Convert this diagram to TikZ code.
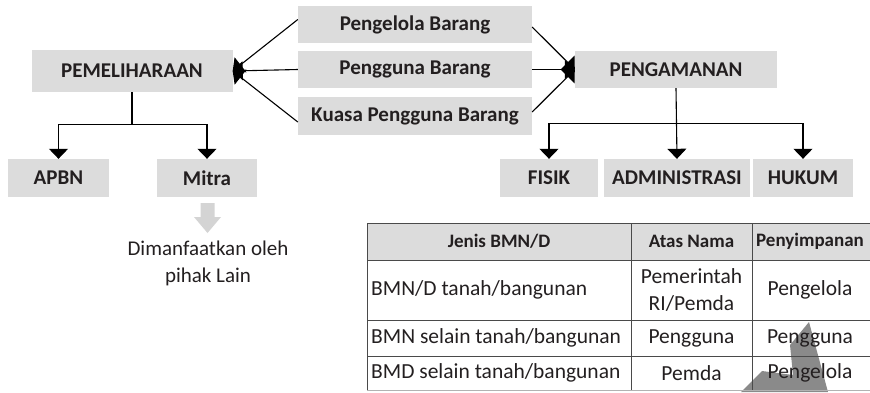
\documentclass[tikz,border=0pt]{standalone}
\usepackage{fontspec}
\setmainfont{Carlito}
\usetikzlibrary{arrows.meta}
\definecolor{boxgray}{HTML}{DCDCDC}
\definecolor{txt}{HTML}{231F20}
\definecolor{wmgray}{HTML}{8A8A8A}
\definecolor{arrgray}{HTML}{D4D4D4}
\definecolor{gridc}{HTML}{4A4A4A}
\begin{document}
\begin{tikzpicture}[x=1pt,y=-1pt,
  box/.style={fill=boxgray,inner sep=0pt,font=\fontsize{21}{25}\selectfont\bfseries,text=txt},
  arr/.style={line width=1.1pt,-{Triangle[width=19pt,length=10pt]}},
  cell/.style={font=\fontsize{21.5}{27}\selectfont,text=txt,inner sep=0pt,align=center},
  hcell/.style={font=\fontsize{19}{23}\selectfont\bfseries,text=txt,inner sep=0pt}]
\useasboundingbox (0,0) rectangle (870,392);
% top boxes
\node[box,minimum width=234pt,minimum height=37pt] (pengelola) at (415,24.5) {Pengelola Barang};
\node[box,minimum width=234pt,minimum height=37pt] (pengguna) at (415,69.5) {Pengguna Barang};
\node[box,minimum width=234pt,minimum height=38pt] (kuasa) at (415,116) {Kuasa Pengguna Barang};
\node[box,minimum width=201pt,minimum height=42pt] (pem) at (132,71) {PEMELIHARAAN};
\node[box,minimum width=202pt,minimum height=37pt] (pengam) at (676,69.5) {PENGAMANAN};
\node[box,minimum width=101pt,minimum height=38pt] (apbn) at (58.5,178) {APBN};
\node[box,minimum width=100pt,minimum height=38pt] (mitra) at (207,178) {Mitra};
\node[box,minimum width=98pt,minimum height=38pt] (fisik) at (549,178) {FISIK};
\node[box,minimum width=146pt,minimum height=38pt] (admin) at (677,178) {ADMINISTRASI};
\node[box,minimum width=100pt,minimum height=38pt] (hukum) at (803,178) {HUKUM};
% converging arrows
\draw[arr] ([yshift=5pt]pengelola.west) -- (pem.east);
\draw[arr] (pengguna.west) -- (pem.east);
\draw[arr] ([yshift=-6pt]kuasa.west) -- (pem.east);
\draw[arr] ([yshift=-2.5pt]pengelola.east) -- (pengam.west);
\draw[arr] (pengguna.east) -- (pengam.west);
\draw[arr] ([yshift=4pt]kuasa.east) -- (pengam.west);
% trees
\draw[arr] (pem.south) -- ++(0,32) -| (apbn.north);
\draw[arr] (pem.south) -- ++(0,32) -| (mitra.north);
\draw[arr] (pengam.south) -- (admin.north);
\draw[arr] (pengam.south) ++(0,35.5) -| (fisik.north);
\draw[arr] (pengam.south) ++(0,35.5) -| (hukum.north);
% gray block arrow
\fill[arrgray] (200.5,203) -- (214.5,203) -- (214.5,217) -- (221,217) -- (207.5,233) -- (194,217) -- (200.5,217) -- cycle;
\node[cell,font=\fontsize{21}{27}\selectfont] (dim) at (208,263) {Dimanfaatkan oleh\\pihak Lain};
% table
\fill[boxgray] (367,223) rectangle (871,260);
\fill[wmgray] (809,322) -- (790,345) -- (793,375) -- (762,371) -- (741,392) -- (828,392) -- cycle;
\draw[gridc,line width=1pt] (367,223) -- (871,223);
\draw[gridc,line width=1pt] (367,260) -- (871,260);
\draw[gridc,line width=1pt] (367,320) -- (871,320);
\draw[gridc,line width=1pt] (367,356) -- (871,356);
\draw[gray!60,line width=1pt] (367,390) -- (871,390);
\draw[gridc,line width=1pt] (367,223) -- (367,390);
\draw[gridc,line width=1pt] (631,223) -- (631,390);
\draw[gridc,line width=1pt] (752,223) -- (752,390);
\node[hcell] (h1) at (499,241.5) {Jenis BMN/D};
\node[hcell] (h2) at (691.5,241.5) {Atas Nama};
\node[hcell] (h3) at (810,241.5) {Penyimpanan};
\node[cell,anchor=west] (r1a) at (371,290) {BMN/D tanah/bangunan};
\node[cell] (r1b) at (691.5,290) {Pemerintah\\RI/Pemda};
\node[cell] (r1c) at (810,290) {Pengelola};
\node[cell,anchor=west] (r2a) at (371,338) {BMN selain tanah/bangunan};
\node[cell] (r2b) at (691.5,338) {Pengguna};
\node[cell] (r2c) at (810,338) {Pengguna};
\node[cell,anchor=west] (r3a) at (371,373) {BMD selain tanah/bangunan};
\node[cell] (r3b) at (691.5,373) {Pemda};
\node[cell] (r3c) at (810,373) {Pengelola};
\end{tikzpicture}
\end{document}
